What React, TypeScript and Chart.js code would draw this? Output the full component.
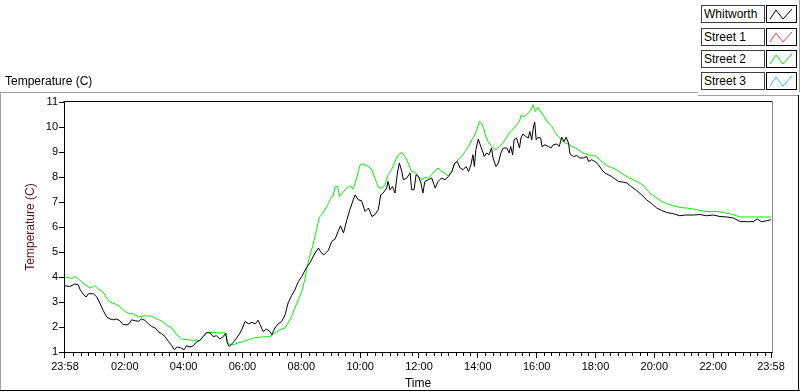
import React, { useEffect, useRef } from "react";
import { Chart, registerables } from "chart.js";

Chart.register(...registerables);

// ---------- data ----------
const seriesNames = ["Whitworth", "Street 1", "Street 2", "Street 3"];
const seriesColors = ["#000000", "#ff3b3b", "#00f000", "#35b4ff"];

// minutes since 23:58 (start of record) and temperature (C)
const whitworthMinutes = [
  0, 10, 20, 27, 31, 37, 43, 48, 58, 65, 71, 78, 85, 92, 99, 105, 112, 119, 129, 136,
  143, 150, 156, 163, 170, 177, 184, 190, 197, 204, 211, 218, 223, 229, 236, 243, 248, 255, 262, 267,
  275, 282, 289, 296, 302, 309, 316, 323, 328, 331, 335, 343, 350, 357, 362, 367, 374, 381, 388, 394,
  398, 404, 411, 418, 422, 428, 435, 442, 449, 455, 462, 469, 476, 483, 492, 500, 510, 517, 522, 528,
  537, 544, 551, 557, 562, 568, 575, 581, 588, 592, 598, 605, 612, 619, 626, 632, 639, 644, 649, 656,
  659, 663, 668, 673, 678, 682, 687, 690, 697, 704, 707, 712, 716, 721, 726, 730, 734, 741, 748, 755,
  761, 768, 775, 782, 789, 795, 800, 806, 812, 818, 823, 828, 832, 835, 838, 843, 848, 853, 855, 860,
  865, 870, 873, 879, 884, 889, 894, 901, 906, 909, 913, 916, 921, 927, 930, 934, 940, 945, 948, 952,
  955, 958, 961, 965, 970, 973, 979, 986, 991, 996, 1003, 1008, 1013, 1018, 1022, 1027, 1030, 1037, 1044, 1050,
  1057, 1064, 1068, 1074, 1081, 1088, 1095, 1101, 1108, 1115, 1122, 1129, 1139, 1146, 1156, 1166, 1176, 1186, 1197, 1207,
  1217, 1227, 1241, 1254, 1265, 1282, 1295, 1309, 1322, 1336, 1350, 1363, 1377, 1394, 1404, 1412, 1421, 1431, 1440,
];
const whitworthTemps = [
  3.65, 3.62, 3.72, 3.69, 3.49, 3.32, 3.2, 3.33, 3.33, 3.2, 2.96, 2.66, 2.4, 2.32, 2.29, 2.32, 2.25, 2.09, 2.09, 2.29,
  2.25, 2.23, 2.32, 2.27, 2.13, 2.02, 1.96, 1.82, 1.73, 1.62, 1.42, 1.25, 1.09, 1.2, 1.17, 1.09, 1.25, 1.2, 1.25, 1.38,
  1.47, 1.62, 1.78, 1.76, 1.62, 1.65, 1.52, 1.62, 1.76, 1.36, 1.22, 1.38, 1.56, 1.76, 1.96, 2.22, 2.13, 2.18, 2.13, 2.27,
  2.09, 1.82, 1.92, 1.82, 1.69, 1.96, 2.13, 2.22, 2.49, 2.96, 3.25, 3.49, 3.82, 4.02, 4.36, 4.58, 4.96, 5.16, 4.98, 4.89,
  5.06, 5.42, 5.52, 5.82, 6.05, 5.76, 6.29, 6.69, 7.09, 7.29, 7.09, 7.05, 6.62, 6.76, 6.42, 6.49, 6.69, 7.29, 7.36, 7.56,
  7.82, 7.49, 7.62, 7.36, 8.16, 8.56, 8.22, 7.89, 7.96, 8.16, 7.49, 7.49, 8.09, 8.02, 7.76, 7.36, 7.82, 7.89, 7.96, 7.56,
  7.82, 7.96, 7.89, 8.02, 8.22, 8.56, 8.62, 8.36, 8.29, 8.42, 8.22, 8.49, 8.89, 8.42, 9.09, 9.52, 9.22, 8.96, 8.82, 8.96,
  8.89, 9.16, 8.76, 8.42, 8.56, 8.96, 9.16, 9.16, 8.96, 9.22, 8.89, 9.49, 9.56, 9.16, 9.56, 9.72, 9.62, 9.56, 9.82, 9.49,
  9.96, 10.2, 9.49, 9.59, 9.56, 9.22, 9.29, 9.22, 9.16, 9.29, 9.32, 9.22, 9.59, 9.42, 9.59, 9.36, 8.92, 8.82, 8.86, 8.76,
  8.76, 8.82, 8.62, 8.69, 8.62, 8.49, 8.29, 8.16, 8.09, 8.02, 7.92, 7.82, 7.79, 7.76, 7.6, 7.46, 7.29, 7.09, 6.93, 6.76,
  6.66, 6.58, 6.53, 6.45, 6.48, 6.48, 6.5, 6.45, 6.48, 6.42, 6.4, 6.36, 6.22, 6.21, 6.22, 6.32, 6.21, 6.25, 6.29,
];

const street1Minutes: number[] = [];
const street1Temps: number[] = [];

const street2Minutes = [
  0, 14, 20, 27, 34, 41, 51, 61, 68, 77, 85, 92, 102, 112, 122, 133, 139, 150, 163, 177,
  187, 197, 207, 218, 228, 238, 252, 262, 269, 275, 282, 289, 302, 316, 326, 333, 343, 353, 364, 374,
  384, 401, 418, 428, 439, 449, 455, 462, 469, 476, 483, 490, 494, 500, 506, 513, 519, 524, 530, 537,
  544, 547, 551, 556, 560, 568, 575, 581, 588, 595, 602, 608, 619, 626, 632, 639, 646, 653, 659, 666,
  673, 680, 687, 694, 700, 707, 714, 721, 728, 734, 741, 748, 755, 761, 768, 775, 782, 789, 795, 802,
  809, 816, 823, 830, 836, 841, 845, 850, 855, 857, 863, 870, 879, 886, 893, 900, 906, 913, 920, 927,
  930, 937, 943, 948, 952, 955, 959, 965, 972, 979, 986, 993, 999, 1006, 1013, 1020, 1027, 1034, 1040, 1047,
  1057, 1067, 1078, 1084, 1091, 1098, 1105, 1115, 1125, 1136, 1146, 1159, 1169, 1180, 1190, 1200, 1214, 1227, 1241, 1254,
  1268, 1282, 1295, 1309, 1329, 1343, 1356, 1370, 1377, 1404, 1440,
];
const street2Temps = [
  4.0, 3.94, 4.02, 3.92, 3.82, 3.69, 3.56, 3.65, 3.52, 3.42, 3.16, 3.0, 2.92, 2.82, 2.62, 2.53, 2.53, 2.4, 2.45, 2.43,
  2.32, 2.25, 2.09, 1.96, 1.69, 1.52, 1.49, 1.45, 1.49, 1.44, 1.62, 1.78, 1.78, 1.76, 1.78, 1.33, 1.29, 1.36, 1.42, 1.49,
  1.56, 1.6, 1.62, 1.76, 1.89, 1.96, 2.16, 2.42, 2.76, 3.09, 3.42, 3.96, 4.42, 4.89, 5.29, 5.89, 6.4, 6.49, 6.69, 6.93,
  7.22, 7.25, 7.62, 7.62, 7.22, 7.42, 7.56, 7.65, 7.52, 7.96, 8.49, 8.52, 8.42, 8.29, 7.96, 7.6, 7.56, 7.69, 8.09, 8.29,
  8.62, 8.89, 8.98, 8.82, 8.56, 8.22, 8.18, 8.02, 7.89, 7.99, 7.96, 8.09, 8.26, 8.36, 8.22, 8.16, 8.02, 8.22, 8.56, 8.69,
  8.82, 9.02, 9.22, 9.49, 9.69, 9.96, 10.22, 10.13, 9.89, 9.69, 9.42, 9.22, 9.09, 9.22, 9.36, 9.56, 9.76, 9.89, 10.06, 10.22,
  10.46, 10.42, 10.52, 10.62, 10.76, 10.89, 10.62, 10.79, 10.56, 10.36, 10.16, 10.02, 9.82, 9.62, 9.49, 9.36, 9.32, 9.22, 9.18, 9.09,
  8.96, 8.89, 8.86, 8.82, 8.69, 8.56, 8.46, 8.38, 8.29, 8.13, 8.02, 7.89, 7.79, 7.66, 7.42, 7.25, 7.06, 6.93, 6.86, 6.78,
  6.76, 6.72, 6.66, 6.62, 6.62, 6.58, 6.53, 6.45, 6.4, 6.4, 6.4,
];

const street3Minutes: number[] = [];
const street3Temps: number[] = [];

const majorTickMinutes = [0, 122, 242, 362, 482, 602, 722, 842, 962, 1082, 1202, 1322, 1440];
const majorTickLabels = ["23:58", "02:00", "04:00", "06:00", "08:00", "10:00", "12:00", "14:00", "16:00", "18:00", "20:00", "22:00", "23:58"];
const minorTickFirst = 17; // 00:15
const minorTickStep = 15;
const yMin = 1;
const yMax = 11;

const chartTitle = "Temperature (C)";
const xTitle = "Time";
const yTitle = "Temperature (C)";

const FONT = "'Liberation Sans', Arial, sans-serif";

function toPoints(m: number[], t: number[]) {
  return m.map((v, i) => ({ x: v, y: t[i] }));
}

const minorTicksPlugin = {
  id: "minorTicksAndFrame",
  afterDraw(chart: any) {
    const ctx = chart.ctx;
    const xs = chart.scales.x;
    const area = chart.chartArea;
    ctx.save();
    ctx.strokeStyle = "#000";
    ctx.lineWidth = 1;
    for (let m = minorTickFirst; m < 1440; m += minorTickStep) {
      if (majorTickMinutes.includes(m)) continue;
      const px = Math.round(xs.getPixelForValue(m)) + 0.5;
      ctx.beginPath();
      ctx.moveTo(px, area.bottom);
      ctx.lineTo(px, area.bottom + 4);
      ctx.stroke();
    }
    // top border (black) and right border (gray)
    ctx.beginPath();
    ctx.moveTo(Math.round(area.left) - 0.5, Math.round(area.top) - 0.5);
    ctx.lineTo(Math.round(area.right) + 0.5, Math.round(area.top) - 0.5);
    ctx.stroke();
    ctx.strokeStyle = "#8a8a8a";
    ctx.beginPath();
    ctx.moveTo(Math.round(area.right) + 0.5, Math.round(area.top) - 0.5);
    ctx.lineTo(Math.round(area.right) + 0.5, Math.round(area.bottom) + 0.5);
    ctx.stroke();
    ctx.restore();
  },
};

function LegendIcon({ color }: { color: string }) {
  return (
    <svg width={29} height={16} style={{ display: "block" }}>
      <polyline points="3,13 9,4 16,13 25,3" fill="none" stroke={color} strokeWidth={1} />
    </svg>
  );
}

export default function App() {
  const canvasRef = useRef<HTMLCanvasElement | null>(null);

  useEffect(() => {
    if (!canvasRef.current) return;
    const chart = new Chart(canvasRef.current, {
      type: "line",
      data: {
        datasets: [
          { label: seriesNames[0], data: toPoints(whitworthMinutes, whitworthTemps), borderColor: seriesColors[0] },
          { label: seriesNames[1], data: toPoints(street1Minutes, street1Temps), borderColor: seriesColors[1] },
          { label: seriesNames[2], data: toPoints(street2Minutes, street2Temps), borderColor: seriesColors[2] },
          { label: seriesNames[3], data: toPoints(street3Minutes, street3Temps), borderColor: seriesColors[3] },
        ].map((d) => ({ ...d, borderWidth: 1, pointRadius: 0, tension: 0, fill: false })) as any,
      },
      options: {
        animation: false,
        responsive: false,
        maintainAspectRatio: false,
        layout: { padding: { top: 102, right: 28, left: 0, bottom: 0 } },
        plugins: { legend: { display: false }, tooltip: { enabled: false } },
        scales: {
          x: {
            type: "linear",
            min: -2,
            max: 1442,
            afterBuildTicks: (scale: any) => {
              scale.ticks = majorTickMinutes.map((v) => ({ value: v }));
            },
            afterFit: (scale: any) => {
              scale.height = 40;
            },
            ticks: {
              autoSkip: false,
              maxRotation: 0,
              color: "#000",
              padding: 2,
              font: { family: FONT, size: 11 },
              callback: (v: any) => {
                const i = majorTickMinutes.indexOf(Number(v));
                return i >= 0 ? majorTickLabels[i] : "";
              },
            },
            grid: { drawOnChartArea: false, drawTicks: true, tickLength: 6, color: "#000" },
            border: { color: "#000" },
            title: {
              display: true,
              text: xTitle,
              color: "#000",
              font: { family: FONT, size: 12 },
              padding: { top: 0, bottom: 1 },
            },
          },
          y: {
            type: "linear",
            min: yMin,
            max: yMax,
            afterFit: (scale: any) => {
              scale.width = 64;
            },
            ticks: {
              stepSize: 1,
              color: "#000",
              padding: 1,
              font: { family: FONT, size: 11 },
            },
            grid: { drawOnChartArea: false, drawTicks: true, tickLength: 5, color: "#000" },
            border: { color: "#000" },
            title: {
              display: true,
              text: yTitle,
              color: "#5c1414",
              font: { family: FONT, size: 12 },
              padding: { top: 23, bottom: 0 },
            },
          },
        },
      },
      plugins: [minorTicksPlugin],
    });
    return () => chart.destroy();
  }, []);

  const rowTops = [5, 28, 50, 72];

  return (
    <div
      style={{
        position: "fixed",
        left: 0,
        top: 0,
        width: 800,
        height: 392,
        background: "#fff",
        overflow: "hidden",
        fontFamily: FONT,
      }}
    >
      {/* outer panel frame */}
      <div style={{ position: "absolute", left: 0, top: 92, width: 698, height: 1, background: "#a0a0a0" }} />
      <div style={{ position: "absolute", left: 698, top: 95, width: 100, height: 1, background: "#a0a0a0" }} />
      <div style={{ position: "absolute", left: 0, top: 92, width: 1, height: 298, background: "#a0a0a0" }} />
      <div style={{ position: "absolute", left: 0, top: 390, width: 800, height: 1, background: "#000" }} />
      <div style={{ position: "absolute", left: 798, top: 95, width: 1, height: 296, background: "#000" }} />
      <div style={{ position: "absolute", left: 799, top: 0, width: 1, height: 92, background: "#a0a0a0" }} />

      <canvas ref={canvasRef} width={800} height={392} style={{ position: "absolute", left: 0, top: 0 }} />

      <div style={{ position: "absolute", left: 5, top: 74, fontSize: 12, color: "#000", whiteSpace: "nowrap" }}>
        {chartTitle}
      </div>

      {seriesNames.map((name, i) => (
        <React.Fragment key={name}>
          <div
            style={{
              position: "absolute",
              left: 701,
              top: rowTops[i],
              width: 60,
              height: 16,
              border: "1px solid #404040",
              background: "#fff",
              fontSize: 12,
              lineHeight: "16px",
              paddingLeft: 2,
              boxSizing: "content-box",
              whiteSpace: "nowrap",
              color: "#000",
            }}
          >
            {name}
          </div>
          <div
            style={{
              position: "absolute",
              left: 766,
              top: rowTops[i],
              width: 29,
              height: 16,
              border: "1px solid #000",
              background: "#fff",
            }}
          >
            <LegendIcon color={seriesColors[i]} />
          </div>
        </React.Fragment>
      ))}
    </div>
  );
}
